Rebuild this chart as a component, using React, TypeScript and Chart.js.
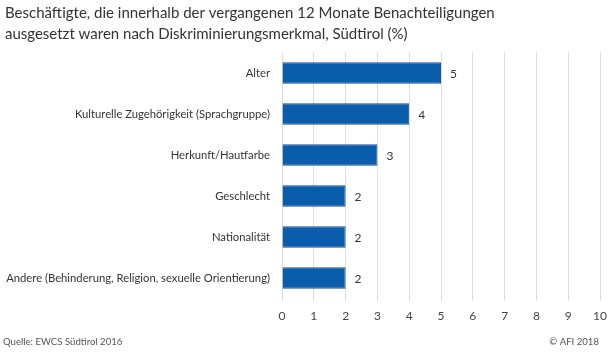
import React, { useEffect, useRef } from "react";
import { Chart, registerables } from "chart.js";

Chart.register(...registerables);

const titleLines = [
  "Beschäftigte, die innerhalb der vergangenen 12 Monate Benachteiligungen",
  "ausgesetzt waren nach Diskriminierungsmerkmal, Südtirol (%)",
];
const categories = [
  "Alter",
  "Kulturelle Zugehörigkeit (Sprachgruppe)",
  "Herkunft/Hautfarbe",
  "Geschlecht",
  "Nationalität",
  "Andere (Behinderung, Religion, sexuelle Orientierung)",
];
const values = [5, 4, 3, 2, 2, 2];
const sourceText = "Quelle: EWCS Südtirol 2016";
const creditText = "© AFI 2018";

const FONT = "Lato, 'Open Sans', sans-serif";

export default function App() {
  const ref = useRef<HTMLCanvasElement | null>(null);
  useEffect(() => {
    if (!ref.current) return;
    const extras = {
      id: "extras",
      afterDraw(chart: any) {
        const ctx = chart.ctx;
        ctx.save();
        ctx.fillStyle = "#333";
        ctx.font = `15px ${FONT}`;
        ctx.textAlign = "left";
        ctx.textBaseline = "alphabetic";
        ctx.fillText(titleLines[0], 5, 18);
        ctx.fillText(titleLines[1], 5, 39);
        ctx.font = `9.6px ${FONT}`;
        ctx.fillStyle = "#555";
        ctx.textBaseline = "middle";
        ctx.fillText(sourceText, 3, 342);
        ctx.textAlign = "right";
        ctx.fillText(creditText, 599, 342);
        // data labels
        const meta = chart.getDatasetMeta(0);
        ctx.font = `12px ${FONT}`;
        ctx.fillStyle = "#333";
        ctx.textAlign = "left";
        meta.data.forEach((bar: any, i: number) => {
          ctx.fillText(String(values[i]), bar.x + 9, bar.y + 1);
        });
        ctx.restore();
      },
    };
    const chart = new Chart(ref.current, {
      type: "bar",
      data: {
        labels: categories,
        datasets: [
          {
            data: values,
            backgroundColor: "#0a5dab",
            borderColor: "#1f4d9c",
            borderWidth: 1,
            barPercentage: 0.52,
            categoryPercentage: 1,
          },
        ],
      },
      options: {
        indexAxis: "y",
        animation: false,
        responsive: false,
        layout: { padding: { top: 52.5, bottom: 30.5, right: 14, left: 0 } },
        plugins: { legend: { display: false }, tooltip: { enabled: false } },
        scales: {
          x: {
            min: 0,
            max: 10,
            ticks: {
              stepSize: 1,
              color: "#444",
              font: { family: FONT, size: 12 },
              padding: 8,
            },
            grid: { color: "#dddddd", drawTicks: true, tickLength: 2 },
            border: { display: false },
            afterFit(scale: any) {
              scale.height = 26;
            },
          },
          y: {
            ticks: {
              color: "#333",
              font: { family: FONT, size: 11.25 },
              padding: 12,
            },
            grid: { display: false, drawTicks: false },
            border: { display: false },
            afterFit(scale: any) {
              scale.width = 282;
            },
          },
        },
      },
      plugins: [extras],
    });
    return () => chart.destroy();
  }, []);
  return (
    <div style={{ position: "fixed", left: 0, top: 0, width: 615, height: 355, background: "#fff" }}>
      <canvas ref={ref} width={615} height={355} />
    </div>
  );
}
